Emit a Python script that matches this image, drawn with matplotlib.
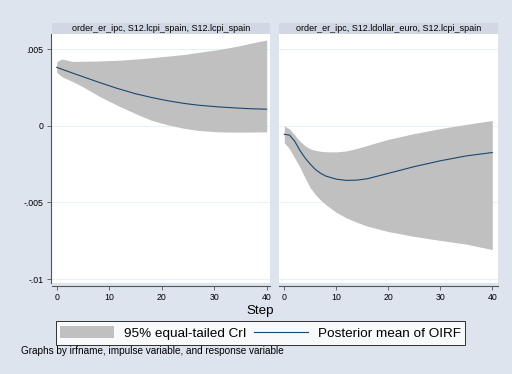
import matplotlib
matplotlib.use('Agg')
import matplotlib.pyplot as plt
from matplotlib.patches import Patch, Rectangle
from matplotlib.lines import Line2D

plt.rcParams['font.family'] = ['Liberation Sans', 'DejaVu Sans']

# Left panel: order_er_ipc, S12.lcpi_spain -> S12.lcpi_spain
left_steps = [0, 1, 3, 5, 8, 11.5, 15, 18, 21, 24.4, 27, 30.8, 34.6, 37, 40]
left_mean = [0.00382, 0.00370, 0.00345, 0.00321, 0.00285, 0.00245, 0.00210, 0.00186,
             0.00165, 0.00146, 0.00135, 0.00124, 0.00116, 0.00112, 0.00109]
left_upper = [0.00420, 0.00437, 0.00421, 0.00422, 0.00424, 0.00428, 0.00436, 0.00445,
              0.00455, 0.00467, 0.00480, 0.00498, 0.00522, 0.00540, 0.00561]
left_lower = [0.00349, 0.00321, 0.00290, 0.00255, 0.00195, 0.00135, 0.00080, 0.00037,
              0.00008, -0.00017, -0.00030, -0.00039, -0.00041, -0.00040, -0.00039]

# Right panel: order_er_ipc, S12.ldollar_euro -> S12.lcpi_spain
right_steps = [0, 1, 2, 3, 4, 5, 6, 7, 8, 10, 12, 14, 16, 20, 25, 30, 35, 40]
right_mean = [-0.00055, -0.00060, -0.00100, -0.00160, -0.00210, -0.00250, -0.00285,
              -0.00310, -0.00328, -0.00348, -0.00356, -0.00354, -0.00345, -0.00310,
              -0.00266, -0.00228, -0.00196, -0.00174]
right_upper = [0.0, -0.00020, -0.00060, -0.00100, -0.00130, -0.00150, -0.00160,
               -0.00166, -0.00169, -0.00170, -0.00163, -0.00147, -0.00127, -0.00088,
               -0.00050, -0.00018, 0.00010, 0.00035]
right_lower = [-0.00110, -0.00150, -0.00210, -0.00270, -0.00340, -0.00405, -0.00450,
               -0.00485, -0.00515, -0.00565, -0.00602, -0.00630, -0.00655, -0.00690,
               -0.00722, -0.00748, -0.00772, -0.00808]

panel_titles = ['order_er_ipc, S12.lcpi_spain, S12.lcpi_spain',
                'order_er_ipc, S12.ldollar_euro, S12.lcpi_spain']
y_ticks = [0.005, 0, -0.005, -0.01]
y_ticklabels = ['.005', '0', '-.005', '-.01']
x_ticks = [0, 10, 20, 30, 40]

bg = '#DDE4EE'
strip = '#D1D8E4'
band = '#C0C0C0'
navy = '#1A476F'
grid = '#EAF0F5'
axis_col = '#555555'

fig = plt.figure(figsize=(5.12, 3.74), dpi=100, facecolor=bg)

panels = [
    (52, 270, left_steps, left_mean, left_upper, left_lower, (-0.9, 40.63)),
    (279, 498, right_steps, right_mean, right_upper, right_lower, (-1.02, 41.1)),
]
W, H = 512.0, 374.0
top, bottom = 34, 283

for i, (x0, x1, steps, mean, upper, lower, xlim) in enumerate(panels):
    ax = fig.add_axes([x0 / W, 1 - bottom / H, (x1 - x0) / W, (bottom - top) / H])
    ax.set_facecolor('white')
    ax.fill_between(steps, lower, upper, color=band, linewidth=0, zorder=2)
    ax.plot(steps, mean, color=navy, lw=0.8, zorder=3)
    ax.set_xlim(*xlim)
    ax.set_ylim(-0.01026, 0.006)
    for yv in y_ticks:
        ax.axhline(yv, color=grid, lw=0.8, zorder=1)
    for s in ['top', 'right']:
        ax.spines[s].set_visible(False)
    ax.spines['bottom'].set_color(axis_col)
    ax.spines['bottom'].set_linewidth(0.8)
    ax.spines['bottom'].set_position(('outward', 2))
    ax.tick_params(axis='x', length=3, width=0.6, color=axis_col, pad=2,
                   labelsize=6.3)
    ax.set_xticks(x_ticks)
    ax.set_xticklabels([str(t) for t in x_ticks])
    ax.set_yticks(y_ticks)
    if i == 0:
        ax.spines['left'].set_color(axis_col)
        ax.spines['left'].set_linewidth(0.8)
        ax.spines['left'].set_position(('outward', 1))
        ax.tick_params(axis='y', length=3, width=0.6, color=axis_col, pad=2,
                       labelsize=6.3)
        ax.set_yticklabels(y_ticklabels)
    else:
        ax.spines['left'].set_visible(False)
        ax.tick_params(axis='y', left=False, labelleft=False)

    # title strip
    fig.patches.append(Rectangle((x0 / W, 1 - top / H), (x1 - x0) / W, 11 / H,
                                 transform=fig.transFigure, facecolor=strip,
                                 edgecolor='none', zorder=0))
    fig.text((x0 + x1) / 2 / W, 1 - 28.5 / H, panel_titles[i], fontsize=6.5,
             ha='center', va='center')

fig.text(260.5 / W, 1 - 311 / H, 'Step', fontsize=9.6, ha='center', va='center')

handles = [Patch(facecolor=band, edgecolor='none'),
           Line2D([], [], color=navy, lw=0.8)]
leg = fig.legend(handles, ['95% equal-tailed CrI', 'Posterior mean of OIRF'],
                 loc='center', bbox_to_anchor=(260.5 / W, 1 - 333 / H), ncol=2,
                 fontsize=9.7, frameon=True, fancybox=False, handlelength=4,
                 handleheight=1.0, columnspacing=0.6, handletextpad=0.7,
                 borderpad=0.35, borderaxespad=0)
leg.get_frame().set_edgecolor('black')
leg.get_frame().set_linewidth(0.7)

fig.text(21 / W, 1 - 351 / H, 'Graphs by irfname, impulse variable, and response variable',
         fontsize=7.2, ha='left', va='center')

fig.savefig('out.png', dpi=100, facecolor=bg)
